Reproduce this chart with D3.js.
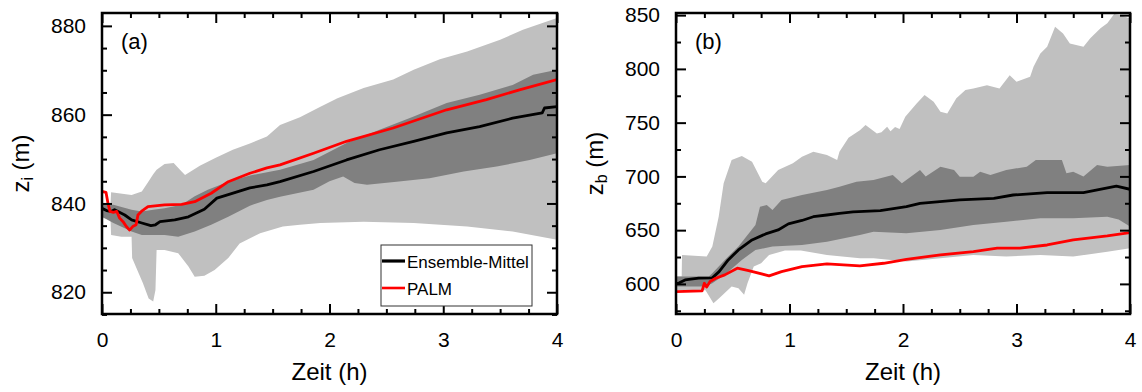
<!DOCTYPE html>
<html><head><meta charset="utf-8">
<script src="https://cdn.jsdelivr.net/npm/d3@7"></script>
<style>body{margin:0;background:#fff} svg{display:block} text{font-family:"Liberation Sans",Arial,Helvetica,sans-serif}</style>
</head><body><svg id="c" width="1142" height="392"></svg>
<script>
// ---------- tick labels / categories ----------
const xTicks = [0, 1, 2, 3, 4];
const xMinor = [0.25,0.5,0.75,1.25,1.5,1.75,2.25,2.5,2.75,3.25,3.5,3.75];
const aYTicks = [820, 840, 860, 880];
const aYMinor = [815,825,830,835,845,850,855,865,870,875];
const bYTicks = [600, 650, 700, 750, 800, 850];
const bYMinor = [575,625,675,725,775,825];
const legendLabels = ["Ensemble-Mittel", "PALM"];
const xTitle = "Zeit (h)";

// ---------- panel (a): z_i ----------
const aLightUpper = [[0,840],[0.075,840],[0.08,842.5],[0.26,841.9],[0.35,842.7],[0.40,844.6],[0.45,846.6],[0.48,847.6],[0.55,848.9],[0.63,849.1],[0.70,847.2],[0.73,846.4],[0.86,848.5],[1.0,850.3],[1.15,852.1],[1.3,853.5],[1.45,855.1],[1.565,857.7],[1.74,859.4],[1.92,861.8],[2.07,863.7],[2.3,866],[2.56,867.9],[2.74,870.1],[2.97,872.5],[3.21,874.2],[3.5,876.9],[3.7,879.1],[4.0,881.8]];
const aLightLower = [[0,836.7],[0.075,836.5],[0.08,832.9],[0.17,832.5],[0.26,832.5],[0.265,827.7],[0.31,825],[0.36,822],[0.41,818.6],[0.45,817.9],[0.47,820.5],[0.48,829.5],[0.55,829.5],[0.67,828.8],[0.76,825.8],[0.815,823.5],[0.9,823.7],[0.99,825],[1.11,827.7],[1.21,831],[1.39,833.3],[1.59,834.8],[1.74,835.2],[1.92,835.6],[2.3,835.9],[2.74,835.6],[3.21,834.8],[3.61,833.7],[4.0,831.8]];
const aDarkUpper = [[0,839.7],[0.1,839.7],[0.26,838.6],[0.35,838.2],[0.45,838.6],[0.55,838.9],[0.7,839.7],[0.815,841.6],[0.93,843.1],[1.11,844.9],[1.3,846.3],[1.565,847.6],[1.86,849.8],[2.15,853.6],[2.44,856.6],[2.74,859.6],[3.03,862.6],[3.32,864.5],[3.61,866.7],[3.79,869],[4.0,870.1]];
const aDarkLower = [[0,837],[0.1,835.6],[0.2,834.4],[0.26,833.7],[0.35,832.9],[0.55,832.9],[0.67,832.5],[0.815,833.7],[0.96,835.2],[1.11,837],[1.3,839.5],[1.45,840.8],[1.565,841.5],[1.86,843.1],[2.0,845],[2.12,846.1],[2.22,844.6],[2.33,844.2],[2.59,844.9],[2.88,845.7],[3.18,847.2],[3.47,848.3],[3.76,849.8],[4.0,851.3]];
const aMean = [[0,838.9],[0.04,838.4],[0.08,838.2],[0.11,838.6],[0.2,837.4],[0.26,836.3],[0.35,835.6],[0.43,835],[0.47,835.2],[0.51,835.9],[0.64,836.3],[0.76,837],[0.9,838.7],[1.01,841.2],[1.11,842],[1.3,843.5],[1.45,844.2],[1.565,844.9],[1.86,847.2],[2.15,849.8],[2.44,852.1],[2.74,854],[3.03,855.9],[3.32,857.3],[3.61,859.2],[3.87,860.4],[3.89,861.5],[4.0,861.8]];
const aPalm = [[0,842.7],[0.035,842.5],[0.053,840],[0.07,838.2],[0.1,838],[0.13,838.2],[0.155,836.7],[0.185,835.9],[0.214,834.8],[0.243,834],[0.27,834.8],[0.3,835.2],[0.316,837.4],[0.346,838.2],[0.404,839.3],[0.55,839.7],[0.7,839.8],[0.815,840.4],[0.96,842.3],[1.11,844.9],[1.3,846.8],[1.45,848],[1.565,848.7],[1.86,851.3],[2.15,854],[2.56,857],[3.03,861.1],[3.38,863.4],[3.67,865.6],[4.0,867.9]];

// ---------- panel (b): z_b ----------
const bLightUpper = [[0,606.8],[0.05,606.8],[0.053,627],[0.27,625.4],[0.32,634.7],[0.376,662.5],[0.42,693.6],[0.49,715.2],[0.58,719],[0.67,713.7],[0.76,695],[0.79,693.6],[0.9,706],[1.03,712.2],[1.11,718.3],[1.21,723],[1.33,720],[1.42,715.2],[1.44,723],[1.52,736],[1.62,743],[1.67,747.8],[1.77,740],[1.81,741],[1.86,746.2],[1.89,742],[1.93,746],[1.97,744],[2.02,755.5],[2.12,767.9],[2.19,775.7],[2.27,769.4],[2.33,760.1],[2.39,758.6],[2.47,772.6],[2.55,780.3],[2.62,781.8],[2.74,784.9],[2.85,781.8],[2.94,794.2],[3.0,788],[3.12,792.7],[3.15,802],[3.21,814.4],[3.27,820.6],[3.34,839.1],[3.41,832.9],[3.47,823.6],[3.59,820.6],[3.65,828.4],[3.74,837.7],[3.8,842.4],[3.86,851],[3.92,850],[4.0,846.9]];
const bLightLower = [[0,594.4],[0.2,594.4],[0.26,594],[0.33,582],[0.38,586.7],[0.49,597.5],[0.55,596],[0.6,589.8],[0.63,600.6],[0.685,616.1],[0.75,619.2],[0.82,627],[0.96,631],[1.1,631],[1.33,627],[1.62,623.9],[1.74,623.9],[2.03,620.8],[2.33,623.9],[2.62,627],[2.91,625.4],[3.21,627],[3.5,625.4],[3.8,630],[4.0,633.2]];
const bDarkUpper = [[0,606.8],[0.29,606.8],[0.32,610],[0.43,622.3],[0.55,634.7],[0.7,654.8],[0.74,671.8],[0.8,673.4],[0.85,668.8],[0.93,678.1],[1.11,682.7],[1.33,687.4],[1.44,690.4],[1.59,695],[1.74,696.6],[1.91,701.3],[1.99,693.6],[2.15,706],[2.2,699.8],[2.33,709],[2.45,706],[2.5,699.7],[2.62,699.7],[2.68,704.4],[2.77,701.3],[2.91,706],[3.09,709],[3.17,715.2],[3.4,715.2],[3.44,702.9],[3.5,704.4],[3.59,699.8],[3.71,710.6],[3.8,709],[4.0,710.6]];
const bDarkLower = [[0,597.5],[0.26,597.5],[0.32,600.6],[0.43,608.4],[0.58,622.3],[0.7,631.6],[0.85,634.7],[1.11,636.2],[1.33,639.3],[1.62,645.5],[1.74,648.6],[2.03,647.1],[2.33,650.2],[2.62,654.8],[2.91,657.9],[3.21,661],[3.5,661],[3.8,662.5],[3.9,660],[4.0,653.3]];
const bMean = [[0,600],[0.03,601],[0.08,603.7],[0.2,605.3],[0.32,605.6],[0.38,611.4],[0.46,622.3],[0.55,631.6],[0.67,640.9],[0.79,646.5],[0.9,650.2],[0.99,655.8],[1.11,659],[1.21,662.5],[1.33,664.1],[1.44,665.7],[1.56,667],[1.8,668.1],[2.03,671.8],[2.15,675],[2.5,678.1],[2.8,679.6],[2.97,682.7],[3.27,684.9],[3.59,684.9],[3.88,691],[4.0,688]];
const bPalm = [[0,592.9],[0.23,593.5],[0.25,600.6],[0.27,597],[0.3,602.2],[0.35,605.3],[0.43,608.4],[0.54,614.6],[0.64,612.4],[0.82,607.5],[0.93,611.4],[1.11,616.1],[1.33,618.6],[1.62,616.7],[1.83,619.2],[2.03,622.9],[2.33,627],[2.62,630],[2.83,633.2],[3.03,633.2],[3.27,636.2],[3.5,640.9],[3.8,644.6],[4.0,647.7]];

const svg = d3.select("#c");
const FONT = '"Liberation Sans",Arial,Helvetica,sans-serif';

function panel(cfg, idx) {
  const {left, right, top, bottom} = cfg;
  const x = d3.scaleLinear().domain([0, 4]).range([left, right]);
  const y = d3.scaleLinear().domain(cfg.yDomain).range([bottom, top]);
  const g = svg.append("g");
  const clipId = "clip" + idx;
  svg.append("defs").append("clipPath").attr("id", clipId)
    .append("rect").attr("x", left).attr("y", top).attr("width", right - left).attr("height", bottom - top);
  const plot = g.append("g").attr("clip-path", `url(#${clipId})`);
  const poly = d3.line().x(d => x(d[0])).y(d => y(d[1]));
  const band = (up, lo, col) => plot.append("path")
      .attr("d", poly(up.concat(lo.slice().reverse())) + "Z")
      .attr("fill", col).attr("stroke", "none");
  band(cfg.light[0], cfg.light[1], "#c0c0c0");
  band(cfg.dark[0], cfg.dark[1], "#808080");
  plot.append("path").attr("d", poly(cfg.mean)).attr("fill", "none")
      .attr("stroke", "#000").attr("stroke-width", 2.8).attr("stroke-linejoin", "round");
  plot.append("path").attr("d", poly(cfg.palm)).attr("fill", "none")
      .attr("stroke", "#ff0000").attr("stroke-width", 2.8).attr("stroke-linejoin", "round");

  const style = sel => {
    sel.select(".domain").remove();
    sel.selectAll(".tick line").attr("stroke", "#000").attr("stroke-width", 2);
    sel.attr("font-family", FONT).attr("font-size", 21);
    sel.selectAll(".tick text").attr("fill", "#000");
  };
  // bottom
  g.append("g").attr("transform", `translate(0,${bottom})`)
    .call(d3.axisBottom(x).tickValues(xTicks).tickSize(-10).tickPadding(18).tickFormat(d3.format("d"))).call(style);
  g.append("g").attr("transform", `translate(0,${bottom})`)
    .call(d3.axisBottom(x).tickValues(xMinor).tickSize(-5).tickFormat("")).call(style);
  // top
  g.append("g").attr("transform", `translate(0,${top})`)
    .call(d3.axisTop(x).tickValues(xTicks).tickSize(-10).tickFormat("")).call(style);
  g.append("g").attr("transform", `translate(0,${top})`)
    .call(d3.axisTop(x).tickValues(xMinor).tickSize(-5).tickFormat("")).call(style);
  // left
  g.append("g").attr("transform", `translate(${left},0)`)
    .call(d3.axisLeft(y).tickValues(cfg.yTicks).tickSize(-10).tickPadding(16).tickFormat(d3.format("d"))).call(style);
  g.append("g").attr("transform", `translate(${left},0)`)
    .call(d3.axisLeft(y).tickValues(cfg.yMinor).tickSize(-5).tickFormat("")).call(style);
  // right
  g.append("g").attr("transform", `translate(${right},0)`)
    .call(d3.axisRight(y).tickValues(cfg.yTicks).tickSize(-10).tickFormat("")).call(style);
  g.append("g").attr("transform", `translate(${right},0)`)
    .call(d3.axisRight(y).tickValues(cfg.yMinor).tickSize(-5).tickFormat("")).call(style);

  g.append("rect").attr("x", left).attr("y", top).attr("width", right - left).attr("height", bottom - top)
    .attr("fill", "none").attr("stroke", "#000").attr("stroke-width", 2.5);

  // panel label
  g.append("text").attr("x", left + 19).attr("y", 49).attr("font-size", 22).attr("fill", "#000").text(cfg.label);

  // x title
  g.append("text").attr("x", (left + right) / 2).attr("y", 380).attr("text-anchor", "middle")
    .attr("font-size", 24).attr("fill", "#000").text(xTitle);

  // y title
  const yt = g.append("text").attr("transform", `translate(${left - 73},${(top + bottom) / 2}) rotate(-90)`)
    .attr("text-anchor", "middle").attr("font-size", 24).attr("fill", "#000");
  yt.append("tspan").text("z");
  yt.append("tspan").attr("font-size", 16).attr("dy", 4).text(cfg.sub);
  yt.append("tspan").attr("dy", -4).text(" (m)");

  if (cfg.legend) {
    const lx = 381, ly = 245;
    g.append("rect").attr("x", lx).attr("y", ly).attr("width", 151).attr("height", 61)
      .attr("fill", "#fff").attr("stroke", "#333").attr("stroke-width", 1);
    const cols = ["#000", "#ff0000"], ws = [3.2, 2.6], yy = [261, 288];
    legendLabels.forEach((lab, i) => {
      g.append("line").attr("x1", lx + 1).attr("x2", lx + 24).attr("y1", yy[i]).attr("y2", yy[i])
        .attr("stroke", cols[i]).attr("stroke-width", ws[i]);
      g.append("text").attr("x", lx + 26).attr("y", yy[i] + 6.5).attr("font-size", 17)
        .attr("fill", "#000").text(lab);
    });
  }
}

panel({left: 102, right: 557, top: 13, bottom: 314, yDomain: [815.1, 882.9],
  yTicks: aYTicks, yMinor: aYMinor, light: [aLightUpper, aLightLower], dark: [aDarkUpper, aDarkLower],
  mean: aMean, palm: aPalm, label: "(a)", sub: "i", legend: true}, 0);
panel({left: 676, right: 1130, top: 13, bottom: 314, yDomain: [572, 852],
  yTicks: bYTicks, yMinor: bYMinor, light: [bLightUpper, bLightLower], dark: [bDarkUpper, bDarkLower],
  mean: bMean, palm: bPalm, label: "(b)", sub: "b", legend: false}, 1);
</script></body></html>
